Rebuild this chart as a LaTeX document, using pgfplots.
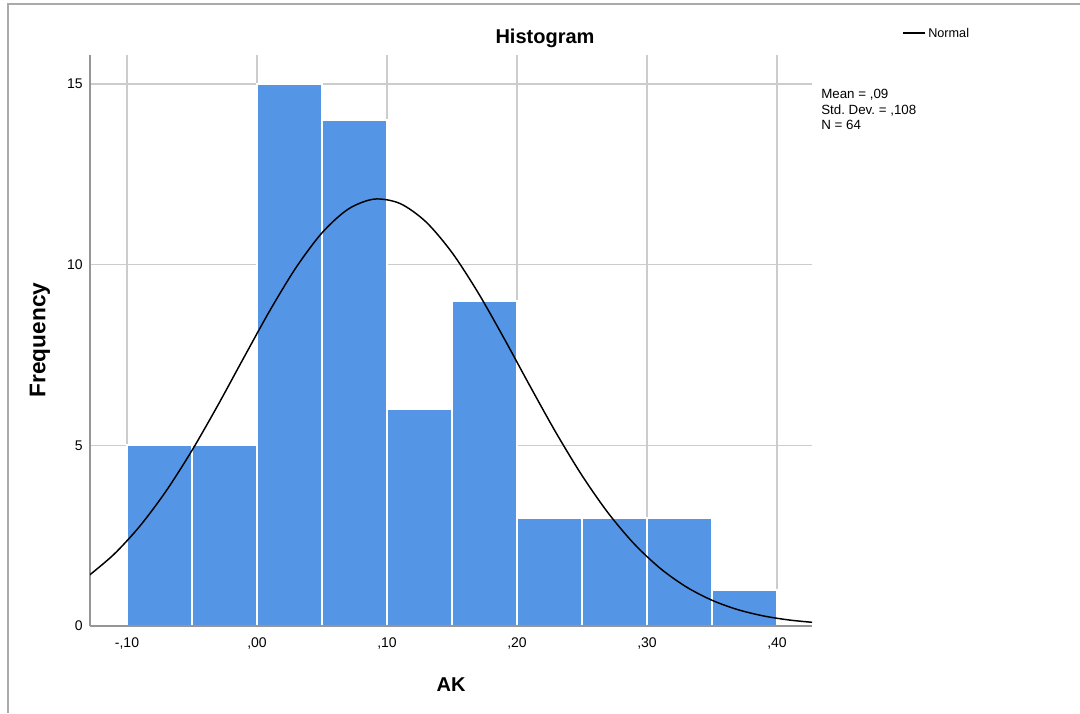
\documentclass[border=0pt]{standalone}
\usepackage{pgfplots}
\pgfplotsset{compat=1.18}
\usepackage{fontspec}
\setmainfont{Liberation Sans}
\definecolor{barblue}{RGB}{85,149,229}
\definecolor{gridgray}{RGB}{204,204,204}
\definecolor{axgray}{RGB}{150,150,150}
\definecolor{framegray}{RGB}{170,170,170}
\begin{document}
\begin{tikzpicture}[x=0.75pt,y=-0.75pt]
\path[use as bounding box] (0,0) rectangle (1080,713);
\draw[color=framegray, line width=1.2pt] (8,713) -- (8,4) -- (1080,4);
\coordinate (O) at (90,626);
\begin{axis}[at={(O)}, anchor=south west, scale only axis,
  width=541.5pt, height=428.25pt,
  xmin=-0.12846, xmax=0.42692, ymin=0, ymax=15.8,
  axis x line*=bottom, axis y line*=left,
  axis line style={axgray, line width=1.3pt, -},
  grid=major, grid style={gridgray, line width=1pt},
  major tick length=0pt,
  xtick={-0.1,0,0.1,0.2,0.3,0.4},
  xticklabels={{-,10},{,00},{,10},{,20},{,30},{,40}},
  ytick={0,5,10,15}, yticklabels={0,5,10,15},
  tick label style={font=\fontsize{10.5}{12}\selectfont},
  xticklabel style={yshift=-5pt},
  yticklabel style={xshift=-2pt},
  clip=true,
]
\addplot[ybar interval, fill=barblue, draw=white, line width=1.5pt]
  coordinates {(-0.10,5) (-0.05,5) (0.00,15) (0.05,14) (0.10,6) (0.15,9)
               (0.20,3) (0.25,3) (0.30,3) (0.35,1) (0.40,1)};
\draw[axgray, line width=1.3pt] (rel axis cs:0,0) -- (rel axis cs:1,0);
\addplot[black, line width=1.1pt, smooth] coordinates {
  (-0.13,1.376) (-0.11,1.985) (-0.09,2.769) (-0.07,3.731) (-0.05,4.859)
  (-0.03,6.115) (-0.01,7.435) (0.01,8.735) (0.03,9.917) (0.05,10.879)
  (0.07,11.532) (0.09,11.812) (0.11,11.691) (0.13,11.181) (0.15,10.333)
  (0.17,9.227) (0.19,7.962) (0.21,6.639) (0.23,5.349) (0.25,4.165)
  (0.27,3.133) (0.29,2.277) (0.31,1.600) (0.33,1.086) (0.35,0.712)
  (0.37,0.451) (0.39,0.276) (0.41,0.163) (0.43,0.093)};
\end{axis}
\node[font=\bfseries\fontsize{15}{18}\selectfont] at (545,38) {Histogram};
\node[font=\bfseries\fontsize{17}{20}\selectfont, rotate=90] at (40,340) {Frequency};
\node[font=\bfseries\fontsize{15}{18}\selectfont] at (451,685) {AK};
\draw[black, line width=1.1pt] (903,33) -- (925,33);
\node[anchor=west, inner sep=0pt, font=\fontsize{9.5}{11}\selectfont] at (928,33) {Normal};
\node[anchor=north west, inner sep=0pt, align=left, font=\fontsize{10}{11.6}\selectfont] at (821,89)
  {Mean = ,09\\Std.\ Dev.\ = ,108\\N = 64};
\end{tikzpicture}
\end{document}
